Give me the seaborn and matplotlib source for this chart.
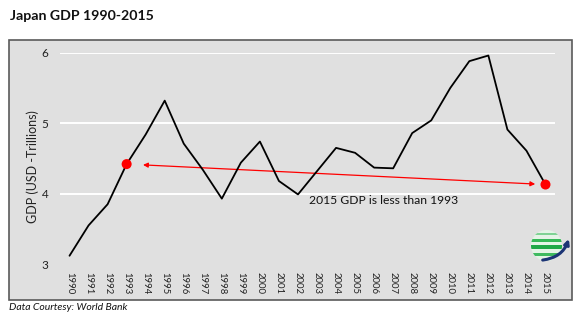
import numpy as np
import pandas as pd
import matplotlib
matplotlib.use("Agg")
import matplotlib.pyplot as plt
import seaborn as sns
from matplotlib.patches import Rectangle, Circle, FancyArrowPatch

# ---- data ----
years = list(range(1990, 2016))
gdp = [3.12, 3.55, 3.85, 4.42, 4.84, 5.32, 4.71, 4.34, 3.93, 4.44,
       4.74, 4.18, 3.99, 4.32, 4.65, 4.58, 4.37, 4.36, 4.86, 5.04,
       5.50, 5.88, 5.96, 4.91, 4.61, 4.13]
y_ticks = [3, 4, 5, 6]
highlight_years = [1993, 2015]
title = "Japan GDP 1990-2015"
y_label = "GDP (USD -Trillions)"
note = "2015 GDP is less than 1993"
source = "Data Courtesy: World Bank"

sns.set_style("white")
plt.rcParams["font.family"] = ["Lato", "DejaVu Sans"]

W, H = 580, 321
fig = plt.figure(figsize=(W / 100, H / 100), dpi=100)
fig.patch.set_facecolor("white")

# grey panel with border
panel = Rectangle((9 / W, 21 / H), 563 / W, 260 / H, transform=fig.transFigure,
                  facecolor="#e0e0e0", edgecolor="#5a5a5a", lw=1.2, zorder=-5)
fig.patches.append(panel)

ax = fig.add_axes([60 / W, 56.8 / H, 495 / W, 211.5 / H])
ax.set_facecolor("none")

df = pd.DataFrame({"Year": years, "GDP": gdp})
for g in y_ticks[1:]:
    ax.axhline(g, color="white", lw=1.4, zorder=1)
sns.lineplot(data=df, x="Year", y="GDP", color="black", lw=1.3, ax=ax, zorder=3)
hl = df[df["Year"].isin(highlight_years)]
sns.scatterplot(data=hl, x="Year", y="GDP", color="red", s=52, edgecolor="none",
                ax=ax, zorder=4)

ax.set_xlim(1989.5, 2015.5)
ax.set_ylim(y_ticks[0], y_ticks[-1])
ax.set_yticks(y_ticks)
ax.set_yticklabels([str(t) for t in y_ticks], fontsize=8.5, color="#222222")
ax.set_xticks(years)
ax.set_xticklabels([str(y) for y in years], rotation=-90, fontsize=6.8,
                   color="#222222")
ax.tick_params(axis="both", length=0)
ax.tick_params(axis="y", pad=8.5)
ax.tick_params(axis="x", pad=5.5)
for s in ax.spines.values():
    s.set_visible(False)
ax.set_xlabel("")
ax.set_ylabel(y_label, fontsize=9, color="#222222")
ax.yaxis.label.set_va("center")
ax.yaxis.set_label_coords((33 - 60) / 495, (264.2 - 167) / 211.5)

# double-headed arrow between highlighted points
v1993 = df.loc[df["Year"] == highlight_years[0], "GDP"].iloc[0]
v2015 = df.loc[df["Year"] == highlight_years[1], "GDP"].iloc[0]
ax.annotate("", xy=(highlight_years[0], v1993), xytext=(highlight_years[1], v2015),
            arrowprops=dict(arrowstyle="<|-|>", color="red", lw=0.9,
                            shrinkA=7.4, shrinkB=11.8, mutation_scale=7),
            zorder=2)
ax.text(2002.6, 3.90, note, fontsize=8.7, ha="left", va="center", color="#111111")

# title and source
fig.text(10 / W, 1 - 15.5 / H, title, fontsize=10.2, fontweight="bold",
         ha="left", va="center", color="#111111")
fig.text(9 / W, 1 - 307 / H, source, fontsize=7.5, style="italic",
         ha="left", va="center", color="#111111")

# small logo
lax = fig.add_axes([530 / W, (H - 262) / H, 42 / W, 33 / H])
lax.set_xlim(0, 1.27)
lax.set_ylim(0, 1)
lax.axis("off")
sphere = Circle((0.5, 0.5), 0.47, facecolor="#e4f4e6", edgecolor="none")
lax.add_patch(sphere)
for yc, h, c in [(0.84, 0.07, "#7fd394"), (0.66, 0.10, "#35b857"),
                 (0.45, 0.12, "#1fa847"), (0.22, 0.10, "#3fba60")]:
    band = Rectangle((0.0, yc - h / 2), 1.0, h, facecolor=c, edgecolor="none")
    band.set_clip_path(sphere)
    lax.add_patch(band)
arr = FancyArrowPatch((0.3, 0.05), (1.2, 0.78), connectionstyle="arc3,rad=0.35",
                      arrowstyle="-|>", mutation_scale=7, color="#1c3475", lw=2.2)
lax.add_patch(arr)

fig.savefig("out.png", dpi=100)
